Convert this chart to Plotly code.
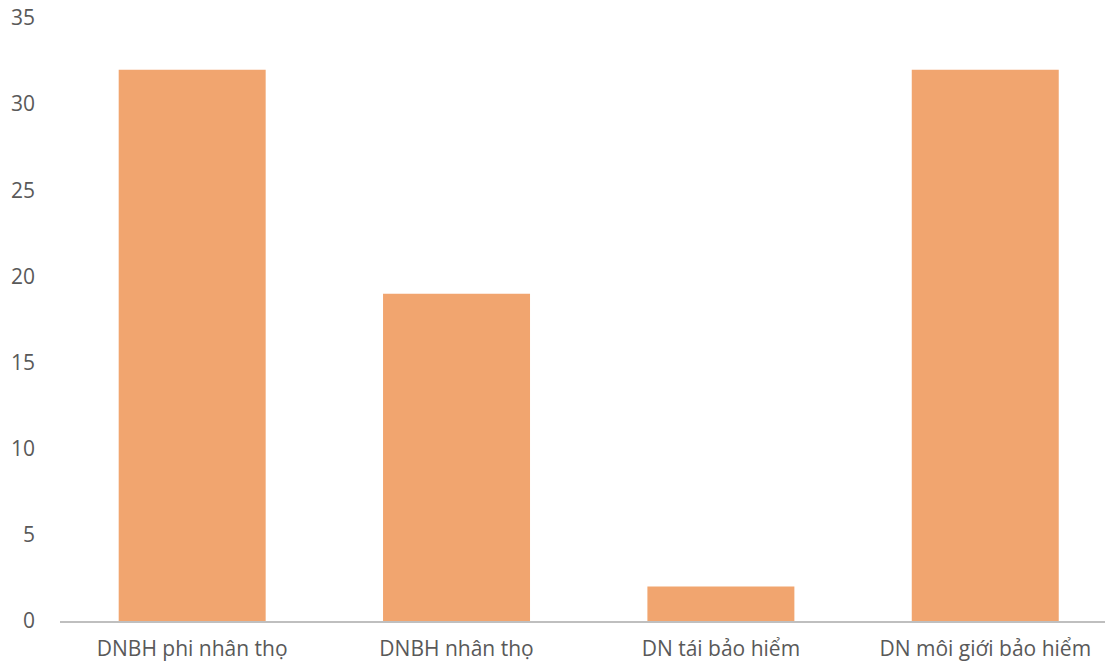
import plotly.graph_objects as go

categories = ["DNBH phi nhân thọ", "DNBH nhân thọ", "DN tái bảo hiểm", "DN môi giới bảo hiểm"]
values = [32, 19, 2, 32]
y_ticks = [0, 5, 10, 15, 20, 25, 30, 35]

fig = go.Figure(
    go.Bar(
        x=list(range(len(categories))),
        y=values,
        marker=dict(color="#F1A56F", line=dict(width=0)),
        width=0.556,
    )
)

fig.update_layout(
    width=1105,
    height=662,
    margin=dict(l=60, r=0, t=18, b=41),
    paper_bgcolor="white",
    plot_bgcolor="white",
    showlegend=False,
    font=dict(family="Open Sans", size=21, color="#595959"),
    xaxis=dict(
        range=[-0.5, 3.453],
        tickmode="array",
        tickvals=list(range(len(categories))),
        ticktext=categories,
        showgrid=False,
        zeroline=False,
        showline=True,
        linecolor="#BFBFBF",
        linewidth=2,
        ticks="",
        ticklabelstandoff=8,
        tickfont=dict(family="Open Sans", size=21, color="#595959"),
    ),
    yaxis=dict(
        range=[0, 35],
        tickvals=y_ticks,
        showgrid=False,
        zeroline=False,
        showline=False,
        ticks="",
        ticklabelstandoff=24,
        tickfont=dict(family="Open Sans", size=21, color="#595959"),
    ),
)

fig.write_html("out.html")
